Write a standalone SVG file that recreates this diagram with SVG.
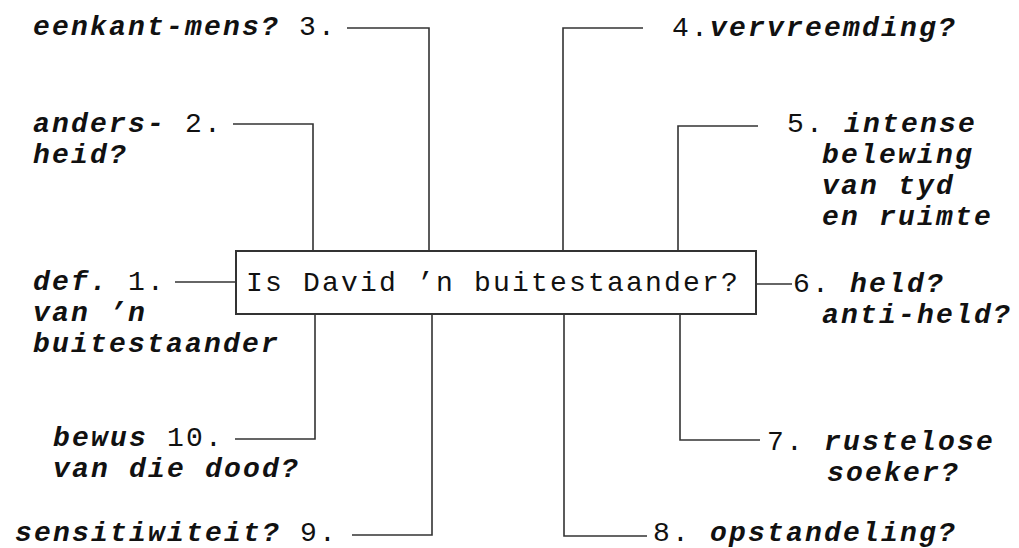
<svg xmlns="http://www.w3.org/2000/svg" width="1019" height="548" viewBox="0 0 1019 548">
  <style>
    text { font-family: "Liberation Mono", "DejaVu Sans Mono", monospace; font-size: 28px; letter-spacing: 2.2px; fill: #111; }
    .w { font-weight: bold; font-style: italic; }
    .wire { fill: none; stroke: #333; stroke-width: 1.6; }
    .box { fill: #fff; stroke: #333; stroke-width: 2; }
  </style>
  <rect width="1019" height="548" fill="#fff"/>

  <!-- connectors from the central question to each theme -->
  <g id="connectors" class="wire">
    <polyline points="347,28 429,28 429,251"/>
    <polyline points="233,124 313,124 313,251"/>
    <polyline points="175,282 236,282"/>
    <polyline points="235,439 315,439 315,314"/>
    <polyline points="352,535 432,535 432,314"/>
    <polyline points="643,28 563,28 563,251"/>
    <polyline points="758,126 678,126 678,251"/>
    <polyline points="756,284 792,284"/>
    <polyline points="760,440 680,440 680,314"/>
    <polyline points="647,536 564,536 564,314"/>
  </g>

  <g id="centre">
    <rect class="box" x="236" y="251" width="520" height="63"/>
    <text x="246" y="291">Is David ’n buitestaander?</text>
  </g>

  <g id="theme-1">
    <text x="33" y="290"><tspan class="w">def.</tspan> 1.</text>
    <text class="w" x="33" y="321">van ’n</text>
    <text class="w" x="33" y="352">buitestaander</text>
  </g>
  <g id="theme-2">
    <text x="33" y="132"><tspan class="w">anders-</tspan> 2.</text>
    <text class="w" x="33" y="163">heid?</text>
  </g>
  <g id="theme-3">
    <text x="33" y="35"><tspan class="w">eenkant-mens?</tspan> 3.</text>
  </g>
  <g id="theme-4">
    <text x="672" y="36">4.<tspan class="w">vervreemding?</tspan></text>
  </g>
  <g id="theme-5">
    <text x="787" y="132">5. <tspan class="w">intense</tspan></text>
    <text class="w" x="822" y="163">belewing</text>
    <text class="w" x="822" y="194">van tyd</text>
    <text class="w" x="822" y="225">en ruimte</text>
  </g>
  <g id="theme-6">
    <text x="793" y="292">6. <tspan class="w">held?</tspan></text>
    <text class="w" x="822" y="323">anti-held?</text>
  </g>
  <g id="theme-7">
    <text x="767" y="450">7. <tspan class="w">rustelose</tspan></text>
    <text class="w" x="827" y="481">soeker?</text>
  </g>
  <g id="theme-8">
    <text x="653" y="541">8. <tspan class="w">opstandeling?</tspan></text>
  </g>
  <g id="theme-9">
    <text x="15" y="541"><tspan class="w">sensitiwiteit?</tspan> 9.</text>
  </g>
  <g id="theme-10">
    <text x="53" y="446"><tspan class="w">bewus</tspan> 10.</text>
    <text class="w" x="53" y="477">van die dood?</text>
  </g>
</svg>
